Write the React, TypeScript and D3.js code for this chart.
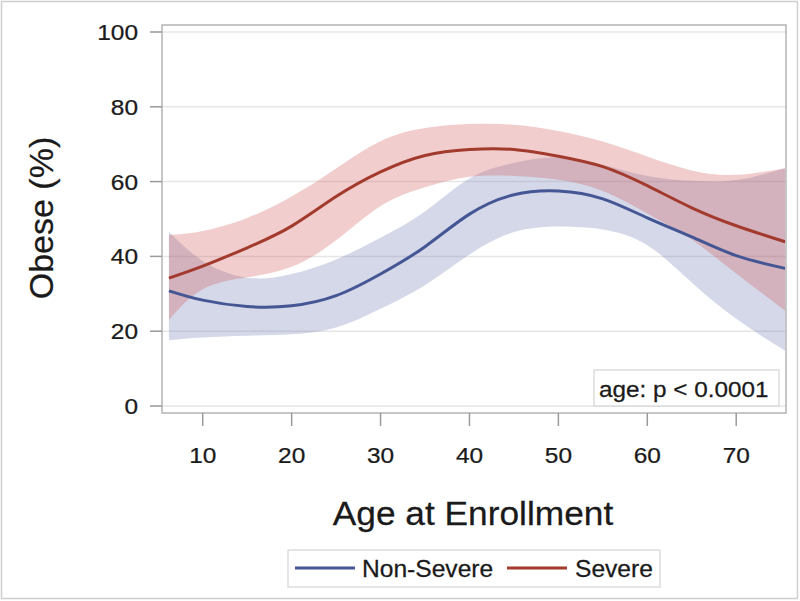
import React from "react";
import * as d3 from "d3";

// ---- data ----
const ages = [6.2, 10, 15, 20, 25, 30, 35, 40, 45, 50, 55, 60, 65, 70, 75.5];

const severeFit = [34.2, 37.4, 42.3, 48.1, 56.0, 62.6, 67.0, 68.6, 68.6, 66.8, 64.0, 58.9, 53.0, 48.2, 43.9];
const severeUpper = [45.7, 46.8, 50.3, 56.0, 63.5, 70.8, 74.3, 75.4, 75.2, 73.5, 70.7, 66.7, 63.0, 61.8, 63.6];
const severeLower = [23.0, 31.2, 34.4, 37.2, 44.3, 53.5, 58.5, 61.3, 61.5, 60.5, 57.5, 51.5, 44.5, 35.4, 25.5];

const nonSevereFit = [30.8, 28.3, 26.6, 26.8, 29.5, 35.3, 42.6, 51.3, 56.5, 57.5, 55.4, 50.3, 45.2, 40.2, 36.8];
const nonSevereUpper = [46.6, 38.8, 34.3, 35.3, 39.2, 45.0, 52.0, 60.8, 65.0, 66.5, 64.5, 61.5, 60.2, 60.4, 63.6];
const nonSevereLower = [17.6, 18.3, 18.8, 19.2, 21.0, 26.0, 32.3, 40.5, 46.5, 48.0, 47.2, 43.0, 33.0, 23.3, 14.8];

const xTicks = [10, 20, 30, 40, 50, 60, 70];
const yTicks = [0, 20, 40, 60, 80, 100];

const seriesNames = ["Non-Severe", "Severe"];
const lineColors = ["#445694", "#A23A2E"];
const bandColors = ["#6F7EB3", "#D05B5B"];

const annotation = "age: p < 0.0001";
const xTitle = "Age at Enrollment";
const yTitle = "Obese (%)";

// ---- layout ----
const W = 800;
const H = 601;
const frame = { left: 162, right: 786, top: 25, bottom: 413 };
const FONT = "Arial, 'Liberation Sans', Helvetica, sans-serif";
const textColor = "#1a1a1a";

function HText(props: {
  x: number;
  y: number;
  size: number;
  sx: number;
  anchor?: "start" | "middle" | "end";
  children: React.ReactNode;
}) {
  const { x, y, size, sx, anchor = "start", children } = props;
  return (
    <text
      transform={`translate(${x},${y}) scale(${sx},1)`}
      textAnchor={anchor}
      fontSize={size}
      fill={textColor}
      stroke={textColor}
      strokeWidth={0.25}
    >
      {children}
    </text>
  );
}

export default function App() {
  const x = d3.scaleLinear().domain([5.42, 75.6]).range([frame.left, frame.right]);
  const y = d3.scaleLinear().domain([0, 100]).range([406, 32]);

  const curve = d3.curveNatural;

  const series = [
    { fit: nonSevereFit, lo: nonSevereLower, hi: nonSevereUpper },
    { fit: severeFit, lo: severeLower, hi: severeUpper },
  ];

  const area = (lo: number[], hi: number[]) =>
    d3
      .area<number>()
      .x((d) => x(d))
      .y0((_, i) => y(lo[i]))
      .y1((_, i) => y(hi[i]))
      .curve(curve)(ages) || "";

  const line = (vals: number[]) =>
    d3
      .line<number>()
      .x((d) => x(d))
      .y((_, i) => y(vals[i]))
      .curve(curve)(ages) || "";

  return (
    <svg
      width={W}
      height={H}
      style={{ position: "absolute", left: 0, top: 0, display: "block", background: "#fff" }}
      fontFamily={FONT}
    >
      <rect x={1.5} y={1.5} width={796} height={597} fill="#fff" stroke="#cfcfcf" strokeWidth={1.5} />

      {/* gridlines */}
      {yTicks.map((t) => (
        <line key={"g" + t} x1={frame.left} x2={frame.right} y1={y(t)} y2={y(t)} stroke="#e6e6e6" strokeWidth={1.5} />
      ))}

      {/* bands */}
      {series.map((s, i) => (
        <path key={"b" + i} d={area(s.lo, s.hi)} fill={bandColors[i]} fillOpacity={0.3} stroke="none" />
      ))}

      {/* fit lines */}
      {series.map((s, i) => (
        <path key={"l" + i} d={line(s.fit)} fill="none" stroke={lineColors[i]} strokeWidth={3} />
      ))}

      {/* frame */}
      <rect
        x={frame.left}
        y={frame.top}
        width={frame.right - frame.left}
        height={frame.bottom - frame.top}
        fill="none"
        stroke="#b4b4b4"
        strokeWidth={1.5}
      />

      {/* y axis ticks */}
      {yTicks.map((t) => (
        <g key={"yt" + t}>
          <line x1={150} x2={frame.left} y1={y(t)} y2={y(t)} stroke="#9a9a9a" strokeWidth={1.5} />
          <HText x={138} y={y(t) + 8} size={22} sx={1.11} anchor="end">
            {t}
          </HText>
        </g>
      ))}

      {/* x axis ticks */}
      {xTicks.map((t) => (
        <g key={"xt" + t}>
          <line x1={x(t)} x2={x(t)} y1={frame.bottom} y2={426} stroke="#9a9a9a" strokeWidth={1.5} />
          <HText x={x(t)} y={463} size={22} sx={1.11} anchor="middle">
            {t}
          </HText>
        </g>
      ))}

      {/* annotation box */}
      <rect x={594} y={370} width={185} height={36} fill="#fff" stroke="#d4d4d4" strokeWidth={1.2} />
      <HText x={599} y={397} size={21.5} sx={1.13}>
        {annotation}
      </HText>

      {/* axis titles */}
      <HText x={473} y={525} size={33} sx={1.07} anchor="middle">
        {xTitle}
      </HText>
      <text
        transform="translate(53,218) rotate(-90)"
        textAnchor="middle"
        fontSize={34}
        fill={textColor}
        stroke={textColor}
        strokeWidth={0.25}
      >
        {yTitle}
      </text>

      {/* legend */}
      <rect x={288} y={550} width={372} height={37} fill="#fff" stroke="#d4d4d4" strokeWidth={1.2} />
      <line x1={295} x2={355} y1={568} y2={568} stroke={lineColors[0]} strokeWidth={3} />
      <HText x={362} y={577} size={23} sx={1.07}>
        {seriesNames[0]}
      </HText>
      <line x1={507} x2={567} y1={568} y2={568} stroke={lineColors[1]} strokeWidth={3} />
      <HText x={575} y={577} size={23} sx={1.07}>
        {seriesNames[1]}
      </HText>
    </svg>
  );
}
